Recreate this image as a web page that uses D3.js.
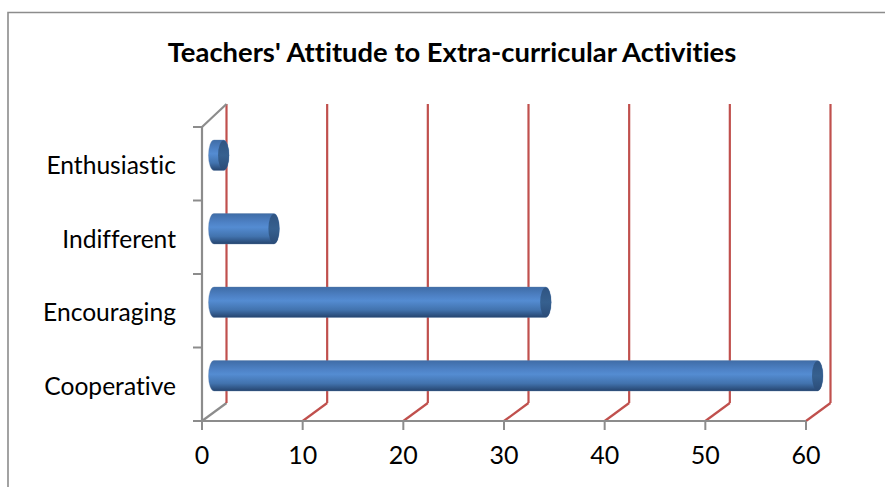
<!DOCTYPE html>
<html><head><meta charset="utf-8">
<script src="https://cdn.jsdelivr.net/npm/d3@7"></script>
<style>html,body{margin:0;padding:0;background:#fff}svg{display:block}text{font-family:Lato,"Open Sans",sans-serif;fill:#000;font-variant-ligatures:none}</style>
</head><body><svg id="c" width="885" height="487"></svg>
<script>
const categories = ["Cooperative","Encouraging","Indifferent","Enthusiastic"];
const values = [60,33,6,1];
const ticks = [0,10,20,30,40,50,60];
const title = "Teachers' Attitude to Extra-curricular Activities";

const svg = d3.select("#c");
const x = d3.scaleLinear().domain([0,60]).range([202,806]);
const y = d3.scaleBand().domain(categories).range([421,127]);
const dx = 24.5, dy = -18, wallTop = 104;
const gray = "#8c8c8c", red = "#c0504d";

const defs = svg.append("defs");
const g = defs.append("linearGradient").attr("id","bar").attr("x1",0).attr("y1",0).attr("x2",0).attr("y2",1);
[[0,"#3f6ca6"],[0.3,"#4e82c6"],[0.45,"#548cd2"],[0.75,"#4273ae"],[1,"#25446e"]]
  .forEach(([o,c])=>g.append("stop").attr("offset",o).attr("stop-color",c));
const gl = defs.append("linearGradient").attr("id","cap").attr("x1",0).attr("y1",0).attr("x2",0).attr("y2",1);
[[0,"#2f5482"],[0.5,"#36608f"],[1,"#2b4c78"]]
  .forEach(([o,c])=>gl.append("stop").attr("offset",o).attr("stop-color",c));

// chart frame
svg.append("path").attr("d","M8,487V12.5H885").attr("fill","none").attr("stroke",gray).attr("stroke-width",1.6);

svg.append("text").attr("x",452).attr("y",62).attr("text-anchor","middle")
  .attr("font-size",27.4).attr("font-weight",700).text(title);

// gridlines
ticks.forEach(t=>{
  const c = t===0 ? gray : red;
  svg.append("path").attr("fill","none").attr("stroke",c).attr("stroke-width",2.2)
    .attr("d",`M${x(t)},${y.range()[0]}L${x(t)+dx},${y.range()[0]+dy}`);
  svg.append("line").attr("x1",x(t)+dx).attr("x2",x(t)+dx).attr("y1",wallTop).attr("y2",y.range()[0]+dy)
    .attr("stroke",red).attr("stroke-width",2.2);
});

// axis walls
svg.append("path").attr("fill","none").attr("stroke",gray).attr("stroke-width",2.2)
  .attr("d",`M${x(0)},${y.range()[1]}L${x(0)+dx},${wallTop}`);
svg.append("line").attr("x1",x(0)).attr("x2",x(0)).attr("y1",y.range()[1]).attr("y2",y.range()[0]).attr("stroke",gray).attr("stroke-width",2.2);
svg.append("line").attr("x1",x(0)).attr("x2",x(60)).attr("y1",421).attr("y2",421).attr("stroke",gray).attr("stroke-width",2.2);

// tick marks
ticks.forEach(t=>{
  svg.append("line").attr("x1",x(t)).attr("x2",x(t)).attr("y1",421).attr("y2",430).attr("stroke",gray).attr("stroke-width",2);
  svg.append("text").attr("x",x(t)).attr("y",464).attr("text-anchor","middle").attr("font-size",25).text(t);
});
d3.range(5).forEach(i=>{
  const yy = 421 - i*y.step();
  svg.append("line").attr("x1",193).attr("x2",202).attr("y1",yy).attr("y2",yy).attr("stroke",gray).attr("stroke-width",2);
});
categories.forEach(c=>{
  svg.append("text").attr("x",176).attr("y",y(c)+y.bandwidth()/2+10.5).attr("text-anchor","end").attr("font-size",24.6).text(c);
});

// cylinders
const startX = x(0)+12, rx = 5.5, h = 30.5;
categories.forEach((c,i)=>{
  const cy = y(c)+y.bandwidth()/2 - 8.5;
  const xe = startX + (x(values[i])-x(0)) - 0.5;
  const t = cy-h/2, b = cy+h/2;
  svg.append("path").attr("fill","url(#bar)").attr("stroke","#5f7fa8").attr("stroke-opacity",0.35).attr("stroke-width",1)
    .attr("d",`M${startX},${t}L${xe},${t}A${rx},${h/2} 0 0 1 ${xe},${b}L${startX},${b}A${rx},${h/2} 0 0 1 ${startX},${t}Z`);
  svg.append("ellipse").attr("cx",xe).attr("cy",cy).attr("rx",rx).attr("ry",h/2-0.5).attr("fill","url(#cap)");
});
</script></body></html>
